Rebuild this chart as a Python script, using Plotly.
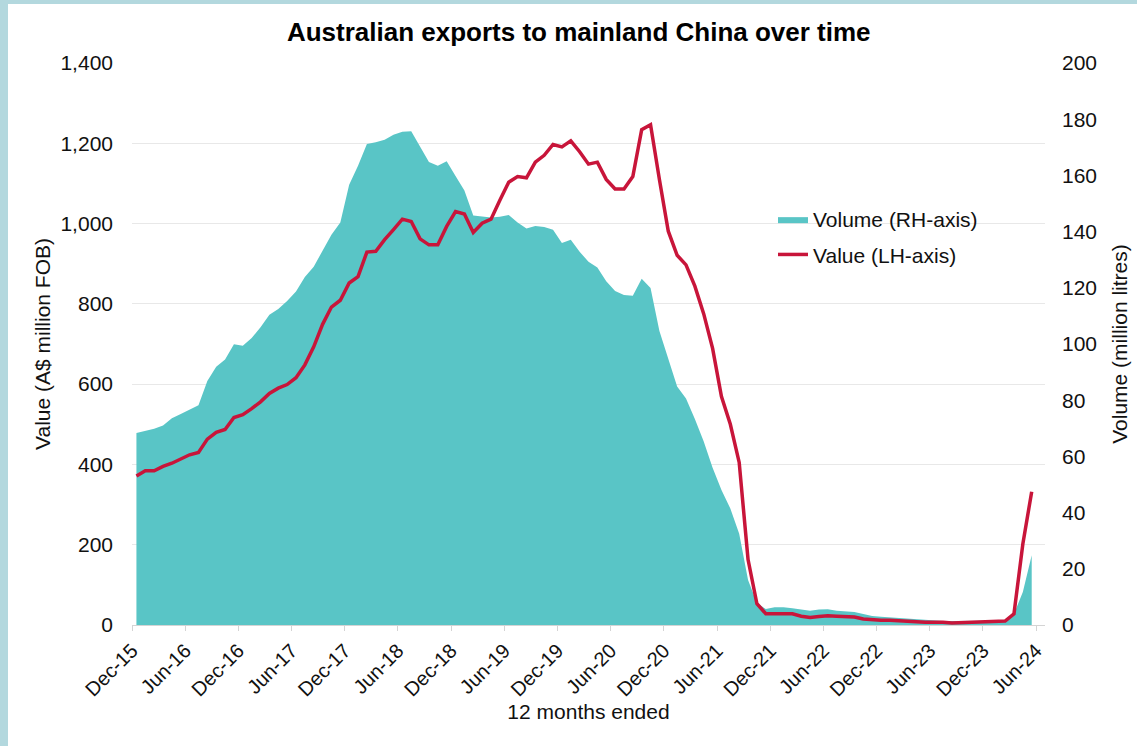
import pandas as pd
import plotly.graph_objects as go

# ---------------- data (12 months ended, monthly, Dec-15 .. May-24) ----------------
months = list(pd.period_range("2015-12", periods=102, freq="M").strftime("%b-%y"))

# Volume, million litres (right-hand axis)
volume = [
    68.3, 69.0, 69.8, 71.0, 73.6, 75.1, 76.6, 78.2, 86.8, 91.9,
    94.5, 99.9, 99.4, 102.1, 106.0, 110.4, 112.5, 115.3, 118.7, 123.8,
    127.5, 133.0, 138.9, 143.2, 156.7, 163.4, 171.2, 171.8, 172.7, 174.5,
    175.5, 175.7, 170.2, 164.8, 163.4, 165.0, 159.8, 154.6, 145.7, 145.3,
    145.0, 145.3, 145.9, 143.2, 141.1, 142.0, 141.6, 140.7, 135.9, 137.1,
    132.8, 129.3, 127.2, 122.3, 118.9, 117.4, 117.2, 123.2, 119.9, 104.6,
    94.7, 84.9, 80.6, 73.3, 65.3, 56.0, 48.0, 41.5, 32.5, 16.0,
    7.8, 5.7, 6.3, 6.3, 6.0, 5.6, 5.1, 5.5, 5.6, 5.1,
    4.9, 4.6, 3.9, 3.2, 2.9, 2.7, 2.5, 2.1, 1.9, 1.7,
    1.5, 1.4, 1.4, 1.4, 1.4, 1.5, 1.5, 1.5, 1.8, 3.9,
    11.7, 24.8,
]

# Value, A$ million FOB (left-hand axis)
value = [
    371, 384, 384, 395, 403, 414, 424, 430, 463, 480,
    487, 517, 524, 539, 556, 577, 590, 599, 616, 648,
    693, 749, 792, 809, 852, 868, 929, 931, 960, 985,
    1011, 1005, 962, 947, 947, 993, 1030, 1024, 978, 1001,
    1011, 1058, 1103, 1117, 1114, 1153, 1170, 1197, 1191, 1206,
    1179, 1148, 1153, 1110, 1086, 1086, 1117, 1234, 1246, 1110,
    981, 921, 897, 844, 775, 689, 569, 500, 405, 163,
    53, 28, 28, 28, 28, 22, 19, 21, 23, 22,
    20, 20, 15, 13, 12, 12, 10, 8, 8, 7,
    8, 7, 5, 6, 7, 7, 8, 8, 10, 28,
    202, 332,
]

tick_labels = [
    "Dec-15", "Jun-16", "Dec-16", "Jun-17", "Dec-17", "Jun-18", "Dec-18", "Jun-19", "Dec-19",
    "Jun-20", "Dec-20", "Jun-21", "Dec-21", "Jun-22", "Dec-22", "Jun-23", "Dec-23", "Jun-24",
]

TEAL = "#59C5C6"
RED = "#C8153A"
FONT = "Liberation Sans, Arial, sans-serif"
TXT = "#111111"
GRID = "#E8E8E8"
AXIS = "#D4D4D4"
BORDER = "#B3D8DE"

x = list(range(len(months)))
tickvals = [6 * k - 0.5 for k in range(len(tick_labels))]

fig = go.Figure()
fig.add_trace(go.Scatter(
    x=x, y=volume, customdata=months, name="Volume (RH-axis)",
    mode="lines", line=dict(width=0, color=TEAL), fill="tozeroy", fillcolor=TEAL,
    yaxis="y", legendgroup="vol",
    hovertemplate="%{customdata}: %{y:.1f} million litres<extra></extra>",
))
fig.add_trace(go.Scatter(
    x=x, y=value, customdata=months, name="Value (LH-axis)",
    mode="lines", line=dict(width=3.5, color=RED),
    yaxis="y2", legendgroup="val",
    hovertemplate="%{customdata}: A$%{y:,.0f}m<extra></extra>",
))

fig.update_layout(
    width=1137, height=746,
    margin=dict(l=132, r=92, t=63, b=121, autoexpand=False),
    paper_bgcolor="white", plot_bgcolor="white",
    font=dict(family=FONT, size=21, color=TXT),
    title=dict(
        text="Australian exports to mainland China over time",
        font=dict(family=FONT, size=26, color="#000000", weight="bold"),
        xref="container", yref="container", x=0.509, y=0.957,
        xanchor="center", yanchor="middle",
    ),
    showlegend=True,
    legend=dict(
        x=(773 - 132) / 913, y=(625 - 199) / 562, xanchor="left", yanchor="top",
        bgcolor="rgba(0,0,0,0)", font=dict(size=21, color=TXT),
        tracegroupgap=5, traceorder="grouped",
    ),
    xaxis=dict(
        range=[-0.5, 102.5], tickmode="array", tickvals=tickvals, ticktext=tick_labels,
        tickangle=-45, ticks="outside", ticklen=5, tickcolor=AXIS, tickwidth=1,
        showline=True, linecolor=AXIS, linewidth=1, showgrid=False, zeroline=False,
        tickfont=dict(size=20, color=TXT),
        title=dict(text="12 months ended", standoff=1, font=dict(size=21, color=TXT)),
    ),
    yaxis=dict(
        range=[0, 200], side="right", tickmode="linear", tick0=0, dtick=20,
        showgrid=False, zeroline=False, showline=False, ticks="",
        ticklabelstandoff=16, tickfont=dict(size=21, color=TXT),
        title=dict(text="Volume (million litres)", standoff=16, font=dict(size=21, color=TXT)),
    ),
    yaxis2=dict(
        range=[0, 1400], overlaying="y", side="left", tickmode="linear", tick0=0, dtick=200,
        tickformat=",", showgrid=True, gridcolor=GRID, gridwidth=1,
        zeroline=False, showline=False, ticks="",
        ticklabelstandoff=18, tickfont=dict(size=21, color=TXT),
        title=dict(text="Value (A$ million FOB)", standoff=4, font=dict(size=21, color=TXT)),
    ),
    shapes=[
        dict(type="rect", xref="paper", yref="paper", layer="above", line=dict(width=0),
             fillcolor=BORDER, x0=(0 - 132) / 913, x1=(8 - 132) / 913,
             y0=(625 - 746) / 562, y1=625 / 562),
        dict(type="rect", xref="paper", yref="paper", layer="above", line=dict(width=0),
             fillcolor=BORDER, x0=(0 - 132) / 913, x1=(1137 - 132) / 913,
             y0=(625 - 4) / 562, y1=625 / 562),
    ],
)

# remove the page's default body margin so the figure sits flush at (0, 0)
fig.write_html(
    "out.html",
    config={"displayModeBar": False},
    post_script="document.body.style.margin='0px';",
)
